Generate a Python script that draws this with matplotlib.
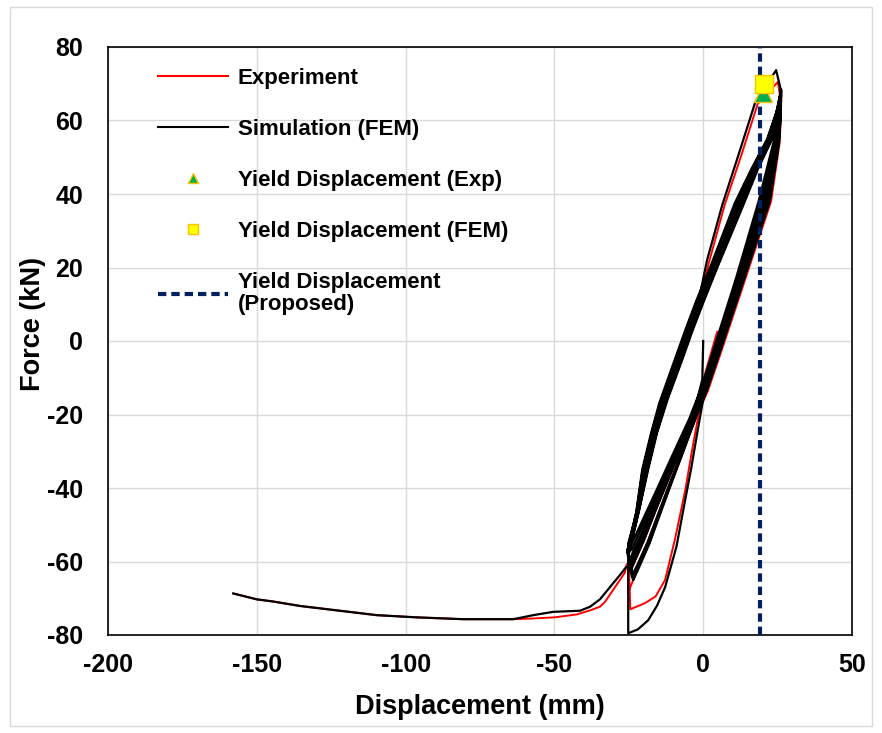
import matplotlib
matplotlib.use("Agg")
import matplotlib.pyplot as plt
from matplotlib.lines import Line2D
from matplotlib.patches import Rectangle

plt.rcParams['font.family'] = ['Liberation Sans', 'DejaVu Sans']
plt.rcParams['font.weight'] = 'bold'
plt.rcParams['axes.unicode_minus'] = False

# ---- Simulation (FEM): displacement (mm) / force (kN), segment by segment ----
sim_init_d = [0.0, -0.3, -3.6, -8.7, -12.8, -16.7, -20.4, -23.1, -24.3]
sim_init_f = [0.0, -10.5, -21.0, -31.0, -39.0, -46.5, -54.0, -58.8, -62.0]

sim_c1_d = [-25.3, -22.1, -19.7, -16.7, -13.7, -8.5, -5.0, -1.7, 1.3, 6.4, 12.0, 17.5, 24.5,
            25.9, 25.5, 24.6, 20.5, 12.4, 4.4, 0.1, -3.6, -8.7, -12.8, -16.7, -20.4, -23.1, -24.3]
sim_c1_f = [-57.4, -46.3, -35.0, -25.0, -16.6, -5.0, 3.0, 10.3, 22.0, 37.0, 51.0, 65.0, 73.7,
            69.0, 60.5, 54.0, 38.0, 17.0, -3.0, -13.5, -21.0, -31.0, -39.0, -46.5, -54.0, -58.8, -62.0]

sim_c2_d = [-25.4, -22.3, -20.1, -17.1, -14.2, -9.0, -5.5, -1.8, 3.2, 11.2, 16.5, 21.9, 24.7,
            25.3, 25.0, 23.6, 18.6, 11.0, 3.2, -1.0, -4.6, -10.3, -14.8, -19.1, -22.8, -24.6]
sim_c2_f = [-57.2, -46.4, -35.0, -25.0, -16.8, -5.0, 3.0, 11.0, 20.9, 37.4, 46.6, 55.1, 62.4,
            64.0, 60.0, 54.0, 38.0, 17.0, -3.0, -13.5, -21.0, -31.0, -39.0, -46.5, -53.0, -56.0]

sim_c3_d = [-25.2, -21.9, -19.3, -16.3, -13.1, -8.0, -4.5, -0.7, 4.1, 12.3, 17.5, 22.7, 25.2,
            26.2, 26.0, 25.5, 22.4, 13.8, 5.6, 1.2, -2.6, -7.1, -10.8, -14.2, -18.0, -21.5, -23.5]
sim_c3_f = [-57.6, -46.2, -35.0, -25.0, -16.4, -5.0, 3.0, 11.0, 20.7, 37.2, 46.8, 55.3, 63.2,
            68.5, 61.0, 54.0, 38.0, 17.0, -3.0, -13.5, -21.0, -31.0, -39.0, -46.5, -55.0, -61.5, -65.0]

sim_c4_d = [-25.0, -21.5, -18.5, -15.5, -12.0, -7.0, -3.5, 0.3, 5.0, 13.5, 18.5, 23.5, 25.6,
            25.6, 25.3, 24.2, 19.7, 11.8, 3.9, -0.3, -4.0, -9.3, -13.6, -17.6, -21.4, -23.7, -25.0]
sim_c4_f = [-58.0, -46.0, -35.0, -25.0, -16.0, -5.0, 3.0, 11.0, 20.5, 37.0, 47.0, 55.5, 64.0,
            65.4, 60.3, 54.0, 38.0, 17.0, -3.0, -13.5, -21.0, -31.0, -39.0, -46.5, -53.6, -57.6, -60.5]

# cycle that runs out to the deepest negative force
sim_c5_d = [-25.5, -22.5, -20.5, -17.5, -14.8, -9.5, -6.0, -2.3, 2.8, 10.6, 16.0, 21.5, 24.5,
            25.9, 25.7, 24.9, 21.3, 13.0, 4.9, 0.5, -2.0, -4.0, -6.0, -9.0, -12.8, -15.5, -18.5, -22.0, -25.2]
sim_c5_f = [-57.0, -46.5, -35.0, -25.0, -17.0, -5.0, 3.0, 11.0, 21.0, 37.5, 46.5, 55.0, 62.0,
            67.2, 60.7, 54.0, 38.0, 17.0, -3.0, -13.5, -25.0, -34.5, -43.0, -56.0, -67.0, -72.0, -76.0, -78.5, -79.5]

sim_c6_d = [-25.2, -22.1, -19.7, -16.7, -13.7, -8.5, -5.0, -1.3, 3.7, 11.8, 17.0, 22.3, 24.9,
            26.1, 25.9, 25.2, 21.8, 13.4, 5.2, 0.9, -2.9, -7.6, -11.4, -14.9, -18.7, -22.0, -24.0]
sim_c6_f = [-55.0, -46.3, -35.0, -25.0, -16.6, -5.0, 3.0, 11.0, 20.8, 37.3, 46.7, 55.2, 62.8,
            67.8, 60.9, 54.0, 38.0, 17.0, -3.0, -13.5, -21.0, -31.0, -39.0, -46.5, -54.7, -60.7, -64.0]

sim_c8_d = [-25.45, -22.4, -20.3, -17.3, -14.5, -9.25, -5.75, -2.05, 3.0, 10.9, 16.25, 21.7, 24.6,
            25.4, 25.15, 23.9, 19.2, 11.4, 3.6, -0.7, -4.3, -9.8, -14.2, -18.4, -22.1, -24.1]
sim_c8_f = [-57.1, -46.45, -35.0, -25.0, -16.9, -5.0, 3.0, 11.0, 20.95, 37.45, 46.55, 55.05, 62.2,
            64.7, 60.15, 54.0, 38.0, 17.0, -3.0, -13.5, -21.0, -31.0, -39.0, -46.5, -53.3, -56.8]

sim_c9_d = [-25.25, -22.0, -19.5, -16.5, -13.4, -8.25, -4.75, -1.0, 3.9, 12.05, 17.25, 22.5, 25.05,
            25.66, 25.4, 24.4, 20.1, 12.1, 4.2, -0.1, -3.8, -9.0, -13.2, -17.1, -21.0, -23.4, -24.8]
sim_c9_f = [-57.5, -46.25, -35.0, -25.0, -16.5, -5.0, 3.0, 11.0, 20.75, 37.25, 46.75, 55.25, 63.0,
            65.8, 60.4, 54.0, 38.0, 17.0, -3.0, -13.5, -21.0, -31.0, -39.0, -46.5, -53.8, -58.2, -61.3]

sim_c10_d = [-25.05, -21.6, -18.7, -15.7, -12.3, -7.25, -3.75, 0.05, 4.8, 13.2, 18.25, 23.3, 25.5,
             25.8, 25.5, 24.7, 20.9, 12.7, 4.6, 0.3, -3.4, -8.4, -12.4, -16.2, -19.9, -22.7, -24.4]
sim_c10_f = [-57.9, -46.05, -35.0, -25.0, -16.1, -5.0, 3.0, 11.0, 20.55, 37.05, 46.95, 55.45, 63.8,
             66.7, 60.6, 54.0, 38.0, 17.0, -3.0, -13.5, -21.0, -31.0, -39.0, -46.5, -54.2, -59.3, -62.5]

sim_c11_d = [-25.35, -22.2, -19.9, -16.9, -14.0, -8.75, -5.25, -1.55, 3.45, 11.5, 16.75, 22.1, 24.8,
             26.2, 26.0, 25.4, 22.2, 13.6, 5.5, 1.1, -2.6, -7.3, -11.0, -14.5, -18.2, -21.7, -23.6]
sim_c11_f = [-57.3, -46.35, -35.0, -25.0, -16.7, -5.0, 3.0, 11.0, 20.85, 37.35, 46.65, 55.15, 62.6,
             68.3, 61.0, 54.0, 38.0, 17.0, -3.0, -13.5, -21.0, -31.0, -39.0, -46.5, -55.0, -61.3, -65.0]

sim_c7_d = [-25.1, -21.7, -18.9, -15.9, -12.6, -7.5, -4.0, -0.2, 4.6, 12.9, 18.0, 23.1, 25.4,
            25.8, 25.5, 24.6, 20.5, 12.4, 4.4, 0.1, -3.6, -8.7, -12.8, -16.7, -20.4, -23.1, -24.3]
sim_c7_f = [-57.8, -46.1, -35.0, -25.0, -16.2, -5.0, 3.0, 11.0, 20.6, 37.1, 46.9, 55.4, 63.6,
            66.3, 60.5, 54.0, 38.0, 17.0, -3.0, -13.5, -21.0, -31.0, -39.0, -46.5, -54.0, -58.8, -62.0]

sim_tail_d = [-25.9, -27.3, -33.0, -34.7, -38.0, -41.4, -50.4, -57.1, -63.8, -80.6, -96.3,
              -109.7, -124.3, -135.5, -144.4, -150.0, -157.9]
sim_tail_f = [-61.5, -63.0, -68.6, -70.3, -72.3, -73.4, -73.7, -74.6, -75.7, -75.7, -75.2,
              -74.6, -73.2, -72.1, -70.9, -70.3, -68.7]

# ---- Experiment ----
exp_init_d = [4.7, 0.7, -3.3, -8.4, -12.4, -16.2, -19.9, -22.7, -24.4]
exp_init_f = [2.5, -8.7, -21.0, -31.0, -39.0, -46.5, -54.2, -59.3, -62.5]

exp_c1_d = [-25.3, -22.0, -19.5, -16.5, -13.4, -8.3, -4.8, -1.5, 1.8, 7.2, 12.8, 18.3, 25.1,
            25.8, 25.5, 24.7, 20.9, 12.7, 4.6, 0.3, -3.4, -8.4, -12.4, -16.2, -19.9, -22.7, -24.4]
exp_c1_f = [-57.5, -46.3, -35.0, -25.0, -16.5, -5.0, 3.0, 10.0, 21.0, 37.0, 50.5, 64.5, 70.5,
            66.7, 60.6, 54.0, 38.0, 17.0, -3.0, -13.5, -21.0, -31.0, -39.0, -46.5, -54.2, -59.3, -62.5]

exp_c2_d = [-25.4, -22.2, -19.9, -16.9, -14.0, -8.8, -5.3, -1.5, 3.5, 11.5, 16.8, 22.1, 24.8,
            26.3, 26.1, 25.7, 22.8, 14.2, 6.0, 1.6, -2.7, -7.2, -12.0, -16.5, -21.0, -25.3]
exp_c2_f = [-57.3, -46.4, -35.0, -25.0, -16.7, -5.0, 3.0, 11.0, 20.9, 37.4, 46.7, 55.2, 62.6,
            68.0, 61.0, 54.0, 38.0, 17.0, -3.0, -13.5, -21.5, -31.0, -41.0, -50.5, -60.0, -68.6]

# cycle that runs out to the deepest negative force
exp_c3_d = [-25.2, -21.8, -19.1, -16.1, -12.8, -7.8, -4.3, -0.5, 4.4, 12.6, 17.8, 22.9, 25.3,
            25.9, 25.7, 24.9, 21.3, 13.0, 4.9, 0.5, -1.7, -3.8, -6.0, -9.5, -12.8, -16.0, -19.5, -24.5]
exp_c3_f = [-57.7, -46.2, -35.0, -25.0, -16.3, -5.0, 3.0, 11.0, 20.7, 37.2, 46.9, 55.4, 63.4,
            67.2, 60.7, 54.0, 38.0, 17.0, -3.0, -13.5, -20.7, -30.0, -40.5, -54.0, -65.0, -69.5, -71.3, -73.0]

exp_c4_d = [-25.1, -21.6, -18.7, -15.7, -12.3, -7.3, -3.8, 0.1, 4.8, 13.2, 18.3, 23.3, 25.5,
            25.7, 25.4, 24.4, 20.1, 12.1, 4.2, -0.1, -3.8, -9.0, -13.2, -17.1, -21.0, -23.5, -25.8]
exp_c4_f = [-57.9, -46.1, -35.0, -25.0, -16.1, -5.0, 3.0, 11.0, 20.6, 37.1, 47.0, 55.5, 63.8,
            65.8, 60.4, 54.0, 38.0, 17.0, -3.0, -13.5, -21.0, -31.0, -39.0, -46.5, -53.8, -58.2, -61.0]

exp_tail_d = [-26.3, -33.0, -34.7, -38.0, -42.5, -50.0, -57.1, -63.8, -80.6, -96.3,
              -109.7, -124.3, -135.5, -144.4, -150.0, -157.9]
exp_tail_f = [-63.0, -71.0, -72.3, -73.3, -74.4, -75.2, -75.5, -75.7, -75.7, -75.2,
              -74.6, -73.2, -72.1, -70.9, -70.3, -68.7]

# yield points
yield_exp = (20.2, 67.5)
yield_fem = (20.4, 69.9)
yield_proposed = 19.0

sim_d = (sim_init_d + sim_c1_d + sim_c2_d + sim_c3_d + sim_c4_d + sim_c5_d + sim_c6_d
         + sim_c8_d + sim_c9_d + sim_c10_d + sim_c11_d + sim_c7_d + sim_tail_d)
sim_f = (sim_init_f + sim_c1_f + sim_c2_f + sim_c3_f + sim_c4_f + sim_c5_f + sim_c6_f
         + sim_c8_f + sim_c9_f + sim_c10_f + sim_c11_f + sim_c7_f + sim_tail_f)
exp_d = exp_init_d + exp_c1_d + exp_c2_d + exp_c3_d + exp_c4_d + exp_tail_d
exp_f = exp_init_f + exp_c1_f + exp_c2_f + exp_c3_f + exp_c4_f + exp_tail_f

fig = plt.figure(figsize=(8.82, 7.33), dpi=100)
fig.patches.append(Rectangle((10 / 882, 7 / 733), 862 / 882, 719 / 733, transform=fig.transFigure,
                             fill=False, edgecolor='#d9d9d9', linewidth=1.0))
ax = fig.add_axes([108 / 882, 1 - 635 / 733, 744 / 882, 588 / 733])

ax.plot(exp_d, exp_f, color='#ff0000', lw=1.4, zorder=3)
ax.plot(sim_d, sim_f, color='black', lw=1.6, zorder=4)
ax.axvline(yield_proposed, color='#002060', lw=3.0, ls=(0, (2.0, 1.2)), zorder=5)
ax.plot(*yield_exp, marker='^', ms=13, mfc='#00b050', mec='#ffc000', mew=1.0, ls='none', zorder=6)
ax.plot(*yield_fem, marker='s', ms=13, mfc='#ffff00', mec='#ffc000', mew=1.0, ls='none', zorder=7)

ax.set_xlim(-200, 50)
ax.set_ylim(-80, 80)
ax.set_xticks(range(-200, 51, 50))
ax.set_yticks(range(-80, 81, 20))
ax.grid(True, color='#d9d9d9', lw=1.0, zorder=0)
ax.set_axisbelow(True)
ax.tick_params(length=0, labelsize=18)
ax.tick_params(axis='y', pad=18)
ax.tick_params(axis='x', pad=13)
for lab in ax.get_xticklabels() + ax.get_yticklabels():
    lab.set_fontweight('bold')
for s in ax.spines.values():
    s.set_linewidth(1.2)
    s.set_color('black')

ax.set_xlabel('Displacement (mm)', fontsize=19.5, fontweight='bold')
ax.set_ylabel('Force (kN)', fontsize=19.5, fontweight='bold')
ax.xaxis.set_label_coords(0.5, -0.100)
ax.yaxis.set_label_coords(-0.0833, 0.529)

handles = [
    Line2D([], [], color='#ff0000', lw=1.5),
    Line2D([], [], color='black', lw=1.5),
    Line2D([], [], marker='^', ms=13, mfc='#00b050', mec='#ffc000', ls='none'),
    Line2D([], [], marker='s', ms=13, mfc='#ffff00', mec='#ffc000', ls='none'),
    Line2D([], [], color='#002060', lw=3.0, ls=(0, (2.0, 1.2))),
]
labels = ['Experiment', 'Simulation (FEM)', 'Yield Displacement (Exp)',
          'Yield Displacement (FEM)', 'Yield Displacement\n(Proposed)']
leg = ax.legend(handles, labels, loc='upper left', bbox_to_anchor=(0.067, 0.965), frameon=False,
                prop={'weight': 'bold', 'size': 16}, handlelength=3.15, handletextpad=0.45,
                labelspacing=1.35, borderpad=0, borderaxespad=0, markerscale=0.6)
for t in leg.get_texts():
    t.set_linespacing(1.1)

fig.savefig('out.png', dpi=100)
